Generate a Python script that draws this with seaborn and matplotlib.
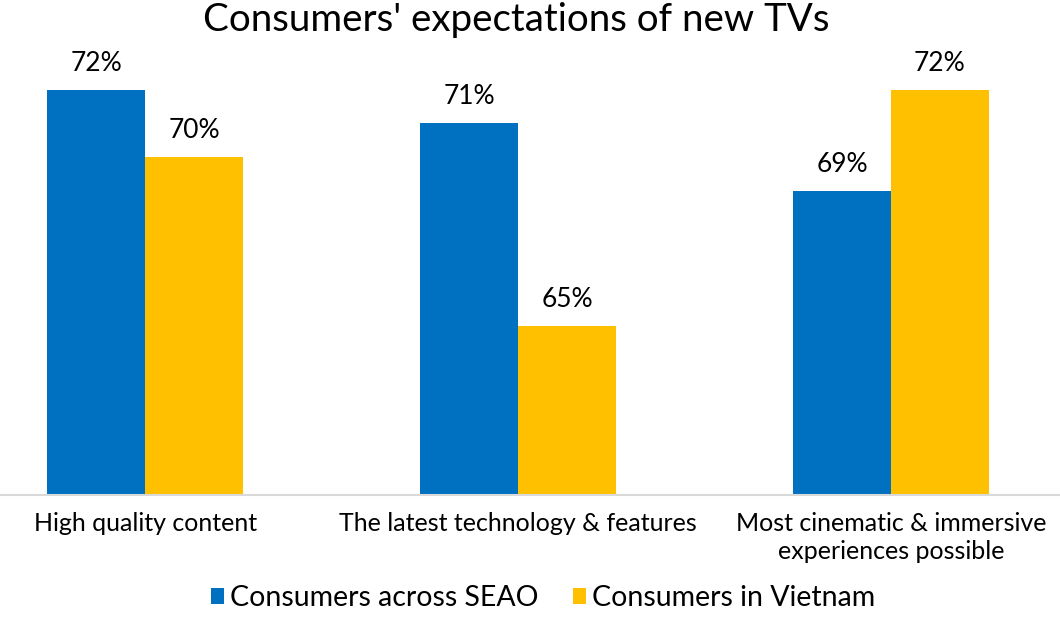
import matplotlib
matplotlib.use("Agg")
import matplotlib.pyplot as plt
import seaborn as sns
import pandas as pd

categories = ["High quality content", "The latest technology & features",
              "Most cinematic & immersive\nexperiences possible"]
series_names = ["Consumers across SEAO", "Consumers in Vietnam"]
seao_values = [72, 71, 69]
vietnam_values = [70, 65, 72]
colors = ["#0070C0", "#FFC000"]

df = pd.DataFrame({
    "category": categories * 2,
    "series": [series_names[0]] * 3 + [series_names[1]] * 3,
    "value": seao_values + vietnam_values,
})

sns.set_theme(style="white")
plt.rcParams['font.family'] = ['Lato', 'DejaVu Sans']
plt.rcParams['text.color'] = 'black'
plt.rcParams['xtick.color'] = 'black'

fig = plt.figure(figsize=(10.6, 6.19), dpi=100)
ax = fig.add_axes([0, 0.2, 1, 0.735])
sns.barplot(data=df, x="category", y="value", hue="series", order=categories,
            hue_order=series_names, palette=colors, width=0.525, gap=0,
            saturation=1, linewidth=0, ax=ax, legend=True)

ax.set_ylim(60, 73.46)
ax.set_xlim(-0.389, 2.453)
for c in ax.containers:
    ax.bar_label(c, labels=[f"{v:.0f}%" for v in c.datavalues], padding=10,
                 fontsize=19, color="black")

ax.set_xlabel("")
ax.set_ylabel("")
ax.set_yticks([])
ax.tick_params(axis="x", length=0, labelsize=18, pad=12, labelcolor="black")
for lbl in ax.get_xticklabels():
    lbl.set_linespacing(1.25)
for s in ["top", "right", "left"]:
    ax.spines[s].set_visible(False)
ax.spines["bottom"].set_color("#D9D9D9")
ax.spines["bottom"].set_linewidth(1.5)

fig.text(516.5 / 1060, 1 - 20 / 619, "Consumers' expectations of new TVs", fontsize=27.7,
         ha="center", va="center", color="black")

leg = ax.legend(loc="center", bbox_to_anchor=(543 / 1060, 1 - 598 / 619), bbox_transform=fig.transFigure,
                ncol=2, frameon=False, fontsize=20.5, handlelength=0.45, handleheight=0.45,
                handletextpad=0.2, columnspacing=1.23, borderpad=0, borderaxespad=0)
for t in leg.get_texts():
    t.set_color("black")

fig.savefig("out.png", dpi=100)
